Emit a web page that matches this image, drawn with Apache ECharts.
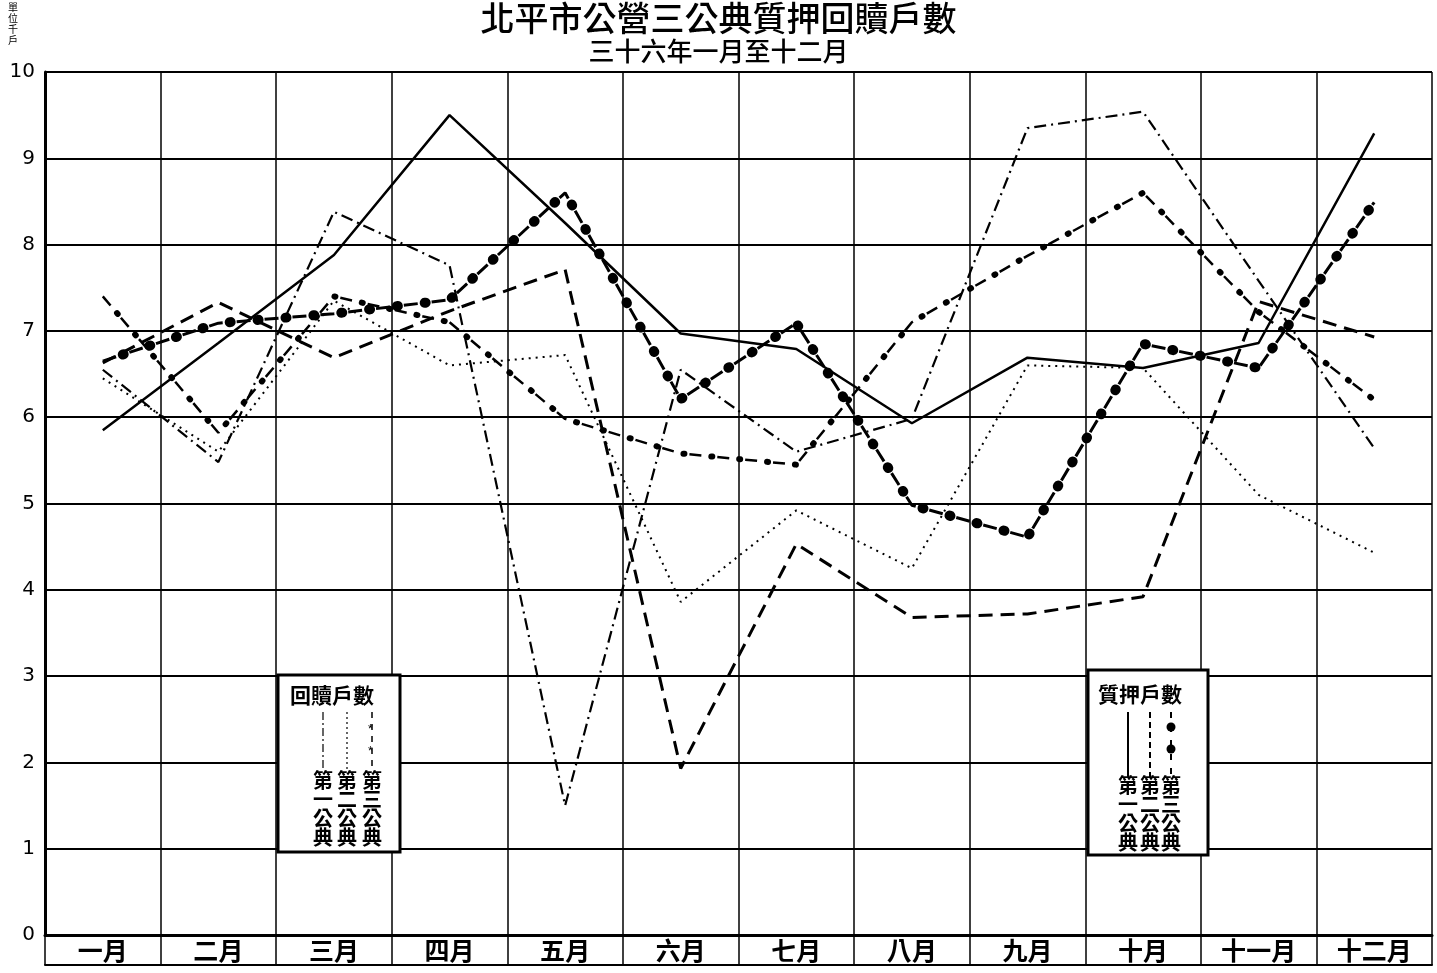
<!DOCTYPE html>
<html><head><meta charset="utf-8">
<script src="https://cdn.jsdelivr.net/npm/echarts@6/dist/echarts.min.js"></script>
<style>html,body{margin:0;padding:0;background:#fff}#c{width:1437px;height:973px}</style>
</head><body><div id="c"></div>
<script>
const months = ['一月','二月','三月','四月','五月','六月','七月','八月','九月','十月','十一月','十二月'];
const yTicks = [0,1,2,3,4,5,6,7,8,9,10];
// 質押戶數 (pledge households, 千戶)
const pledge1 = [5.85, 6.86, 7.88, 9.5, 8.25, 6.97, 6.79, 5.93, 6.69, 6.57, 6.86, 9.29];
const pledge2 = [6.63, 7.33, 6.69, 7.23, 7.71, 1.93, 4.53, 3.68, 3.72, 3.92, 7.34, 6.93];
const pledge3 = [6.65, 7.09, 7.2, 7.36, 8.6, 6.21, 7.09, 4.98, 4.61, 6.85, 6.57, 8.49];
// 回贖戶數 (redemption households, 千戶)
const redeem1 = [6.55, 5.48, 8.38, 7.76, 1.5, 6.55, 5.6, 5.98, 9.35, 9.54, 7.58, 5.64];
const redeem2 = [6.45, 5.6, 7.35, 6.6, 6.72, 3.86, 4.92, 4.25, 6.6, 6.57, 5.1, 4.43];
const redeem3 = [7.4, 5.82, 7.4, 7.1, 5.98, 5.58, 5.45, 7.1, 7.87, 8.6, 7.22, 6.2];

const CJK = '"Noto Sans CJK TC","Noto Sans CJK SC",sans-serif';
const chart = echarts.init(document.getElementById('c'));

function line(name, data, ls, extra) {
  return Object.assign({
    name: name, type: 'line', data: data, xAxisIndex: 0, yAxisIndex: 0,
    symbol: 'none', silent: true, animation: false,
    lineStyle: Object.assign({color: '#000'}, ls), z: 5
  }, extra || {});
}

function colText(x, y, t, size) {
  return {type: 'text', left: x - size / 2, top: y, z: 30,
    style: {text: t, fill: '#000', font: '700 ' + size + 'px ' + CJK, lineHeight: size - 1, textAlign: 'left'}};
}
function vline(x, y1, y2, dash, w) {
  return {type: 'line', z: 30, shape: {x1: x, y1: y1, x2: x, y2: y2},
    style: {stroke: '#000', lineWidth: w || 1.5, lineDash: dash || null}};
}

const legendLeft = [
  {type: 'rect', z: 29, shape: {x: 278, y: 675, width: 122, height: 177}, style: {fill: '#fff', stroke: '#000', lineWidth: 3}},
  {type: 'text', z: 30, left: 290, top: 685, style: {text: '回贖戶數', fill: '#000', font: '700 21px ' + CJK}},
  vline(323, 712, 770, [8, 3, 2, 3], 1.2),
  vline(347, 712, 770, [2, 3], 1.2),
  vline(372, 712, 770, [6, 6], 1.5),
  {type: 'text', z: 31, left: 368, top: 724, style: {text: '*', fill: '#000', font: '12px sans-serif'}},
  {type: 'text', z: 31, left: 368, top: 746, style: {text: '*', fill: '#000', font: '12px sans-serif'}},
  colText(323, 770, '第\n一\n公\n典', 20),
  colText(347, 770, '第\n二\n公\n典', 20),
  colText(372, 770, '第\n三\n公\n典', 20)
];
const legendRight = [
  {type: 'rect', z: 29, shape: {x: 1088, y: 670, width: 120, height: 185}, style: {fill: '#fff', stroke: '#000', lineWidth: 3}},
  {type: 'text', z: 30, left: 1098, top: 684, style: {text: '質押戶數', fill: '#000', font: '700 21px ' + CJK}},
  vline(1128, 712, 778, null, 2),
  vline(1150, 712, 778, [6, 4], 2),
  vline(1171, 712, 778, [6, 8], 2),
  {type: 'circle', z: 31, shape: {cx: 1171, cy: 727, r: 4.5}, style: {fill: '#000'}},
  {type: 'circle', z: 31, shape: {cx: 1171, cy: 749, r: 4.5}, style: {fill: '#000'}},
  colText(1128, 775, '第\n一\n公\n典', 20),
  colText(1150, 775, '第\n二\n公\n典', 20),
  colText(1171, 775, '第\n三\n公\n典', 20)
];

const option = {
  backgroundColor: '#fff',
  animation: false,
  title: [
    {text: '北平市公營三公典質押回贖戶數', left: 'center', top: -4,
      textStyle: {fontSize: 34, fontWeight: 500, color: '#000', fontFamily: CJK}},
    {text: '三十六年一月至十二月', left: 'center', top: 33,
      textStyle: {fontSize: 26, fontWeight: 500, color: '#000', fontFamily: CJK}}
  ],
  grid: [
    {left: 45, right: 5, top: 72, bottom: 38, show: false},
    {left: 45, right: 5, top: 935, height: 30, show: false}
  ],
  xAxis: [
    {type: 'category', gridIndex: 0, data: months, boundaryGap: true,
      axisLine: {show: true, lineStyle: {color: '#000', width: 3}},
      axisTick: {show: false},
      axisLabel: {interval: 0, margin: 3, fontSize: 25, fontWeight: 700, color: '#000', fontFamily: CJK},
      splitLine: {show: true, interval: 0, lineStyle: {color: '#000', width: 1.5}}},
    {type: 'category', gridIndex: 1, data: months, boundaryGap: true,
      axisLine: {show: true, lineStyle: {color: '#000', width: 2}},
      axisTick: {show: false}, axisLabel: {show: false},
      splitLine: {show: true, interval: 0, lineStyle: {color: '#000', width: 1.5}}}
  ],
  yAxis: [
    {type: 'value', gridIndex: 0, min: 0, max: 10, interval: 1,
      axisLine: {show: true, lineStyle: {color: '#000', width: 3}},
      axisTick: {show: false},
      axisLabel: {margin: 10, fontSize: 20, color: '#000', fontFamily: 'DejaVu Sans'},
      splitLine: {show: true, lineStyle: {color: '#000', width: 1.8}}},
    {type: 'value', gridIndex: 1, min: 0, max: 1, show: false}
  ],
  graphic: [
    {type: 'text', left: 8, top: 2, z: 30,
      style: {text: '單\n位\n千\n戶', fill: '#000', font: '10px ' + CJK, lineHeight: 11}}
  ].concat(legendLeft, legendRight),
  series: [
    line('質押 第一公典', pledge1, {type: 'solid', width: 2.5}),
    line('質押 第二公典', pledge2, {type: [14, 8], width: 3}),
    line('質押 第三公典', pledge3, {type: [14, 14], width: 3}),
    line('質押 第三公典 點', pledge3, {type: [1, 27], dashOffset: 7, width: 10, cap: 'round'}),
    line('回贖 第一公典', redeem1, {type: [12, 5, 2, 5], width: 2.2}),
    line('回贖 第二公典', redeem2, {type: [2, 5], width: 2}),
    line('回贖 第三公典', redeem3, {type: [12, 16], width: 2.5}),
    line('回贖 第三公典 記', redeem3, {type: [1, 27], dashOffset: 6, width: 6, cap: 'round'})
  ]
};
chart.setOption(option);
</script></body></html>
